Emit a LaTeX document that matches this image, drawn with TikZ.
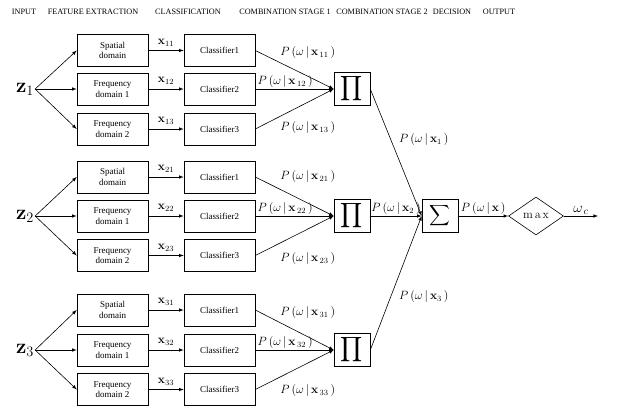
\documentclass[tikz,border=0pt]{standalone}
\usepackage{amsmath}
\usepackage[no-math]{fontspec}
\setmainfont{Liberation Serif}
\usetikzlibrary{shapes.geometric}

\tikzstyle{stage}=[font=\fontsize{8.2}{9}\selectfont, inner sep=0pt]
\tikzstyle{block}=[draw, line width=0.6pt, minimum width=71pt, minimum height=32pt, inner sep=1pt, align=center, font=\fontsize{9}{10.5}\selectfont]
\tikzstyle{comb}=[draw, line width=0.6pt, minimum width=36pt, minimum height=33pt, inner sep=0pt]
\tikzstyle{decide}=[draw, diamond, aspect=1.45, line width=0.6pt, minimum width=55pt, minimum height=38pt, inner sep=0pt]
\tikzstyle{arrow}=[line width=0.6pt, -latex]
\tikzstyle{input}=[font=\huge, inner sep=1pt]
\tikzstyle{feat}=[font=\large, inner sep=1pt]
\tikzstyle{prob}=[font=\large, inner sep=1pt]

\newcommand{\pw}[1]{$P\,(\omega\,|\,\mathbf{x}_{\,#1}\,)$}

\begin{document}
\begin{tikzpicture}[x=1pt, y=-1pt]
      \useasboundingbox[fill=white] (0,0) rectangle (618,413);

      % stage titles
      \node[stage] (hin) at (24, 12) {INPUT};
      \node[stage] (hfeat) at (93, 12) {FEATURE EXTRACTION};
      \node[stage] (hcls) at (188, 12) {CLASSIFICATION};
      \node[stage] (hcomb1) at (285, 12) {COMBINATION STAGE 1};
      \node[stage] (hcomb2) at (382, 12) {COMBINATION STAGE 2};
      \node[stage] (hdec) at (452, 12) {DECISION};
      \node[stage] (hout) at (499, 12) {OUTPUT};

      % group 1
      \node[input] (z1) at (25, 89) {$\mathbf{z}_1$};
      \node[block] (spat1) at (112.5, 50.5) {Spatial\\domain};
      \node[block] (freqa1) at (112.5, 89) {Frequency\\domain 1};
      \node[block] (freqb1) at (112.5, 129) {Frequency\\domain 2};
      \node[block] (cls11) at (219.5, 50.5) {Classifier1};
      \node[block] (cls12) at (219.5, 89) {Classifier2};
      \node[block] (cls13) at (219.5, 129) {Classifier3};
      \node[comb] (prod1) at (352, 89) {\fontsize{17}{20}\selectfont$\displaystyle\prod$};

      % group 2
      \node[input] (z2) at (25, 216) {$\mathbf{z}_2$};
      \node[block] (spat2) at (112.5, 177) {Spatial\\domain};
      \node[block] (freqa2) at (112.5, 216) {Frequency\\domain 1};
      \node[block] (freqb2) at (112.5, 255.5) {Frequency\\domain 2};
      \node[block] (cls21) at (219.5, 177) {Classifier1};
      \node[block] (cls22) at (219.5, 216) {Classifier2};
      \node[block] (cls23) at (219.5, 255.5) {Classifier3};
      \node[comb] (prod2) at (352, 216) {\fontsize{17}{20}\selectfont$\displaystyle\prod$};

      % group 3
      \node[input] (z3) at (25, 350) {$\mathbf{z}_3$};
      \node[block] (spat3) at (112.5, 310) {Spatial\\domain};
      \node[block] (freqa3) at (112.5, 350) {Frequency\\domain 1};
      \node[block] (freqb3) at (112.5, 389.5) {Frequency\\domain 2};
      \node[block] (cls31) at (219.5, 310) {Classifier1};
      \node[block] (cls32) at (219.5, 350) {Classifier2};
      \node[block] (cls33) at (219.5, 389.5) {Classifier3};
      \node[comb] (prod3) at (352, 350) {\fontsize{17}{20}\selectfont$\displaystyle\prod$};

      % second stage and decision
      \node[comb] (sum) at (440, 216) {\fontsize{15}{18}\selectfont$\displaystyle\sum$};
      \node[decide] (maxd) at (536, 216) {\large$\mathrm{m\,a\,x}$};
      \coordinate (out) at (598, 216);

      \draw[arrow] (z1.east) to (spat1.west);
      \draw[arrow] (z1.east) to (freqa1.west);
      \draw[arrow] (z1.east) to (freqb1.west);
      \draw[arrow] (spat1) to node[feat, above=3pt] {$\mathbf{x}_{11}$} (cls11);
      \draw[arrow] (freqa1) to node[feat, above=3pt] {$\mathbf{x}_{12}$} (cls12);
      \draw[arrow] (freqb1) to node[feat, above=3pt] {$\mathbf{x}_{13}$} (cls13);
      \draw[arrow] (cls11.east) to node[prob, pos=0.67, above=16pt] {\pw{11}} (prod1.west);
      \draw[arrow] (cls12.east) to node[prob, pos=0.38, above=0pt] {\pw{12}} (prod1.west);
      \draw[arrow] (cls13.east) to node[prob, pos=0.67, below=18pt] {\pw{13}} (prod1.west);

      \draw[arrow] (z2.east) to (spat2.west);
      \draw[arrow] (z2.east) to (freqa2.west);
      \draw[arrow] (z2.east) to (freqb2.west);
      \draw[arrow] (spat2) to node[feat, above=3pt] {$\mathbf{x}_{21}$} (cls21);
      \draw[arrow] (freqa2) to node[feat, above=3pt] {$\mathbf{x}_{22}$} (cls22);
      \draw[arrow] (freqb2) to node[feat, above=3pt] {$\mathbf{x}_{23}$} (cls23);
      \draw[arrow] (cls21.east) to node[prob, pos=0.67, above=19pt] {\pw{21}} (prod2.west);
      \draw[arrow] (cls22.east) to node[prob, pos=0.38, above=0pt] {\pw{22}} (prod2.west);
      \draw[arrow] (cls23.east) to node[prob, pos=0.67, below=22pt] {\pw{23}} (prod2.west);

      \draw[arrow] (z3.east) to (spat3.west);
      \draw[arrow] (z3.east) to (freqa3.west);
      \draw[arrow] (z3.east) to (freqb3.west);
      \draw[arrow] (spat3) to node[feat, above=3pt] {$\mathbf{x}_{31}$} (cls31);
      \draw[arrow] (freqa3) to node[feat, above=3pt] {$\mathbf{x}_{32}$} (cls32);
      \draw[arrow] (freqb3) to node[feat, above=3pt] {$\mathbf{x}_{33}$} (cls33);
      \draw[arrow] (cls31.east) to node[prob, pos=0.67, above=17pt] {\pw{31}} (prod3.west);
      \draw[arrow] (cls32.east) to node[prob, pos=0.38, above=0pt] {\pw{32}} (prod3.west);
      \draw[arrow] (cls33.east) to node[prob, pos=0.67, below=20pt] {\pw{33}} (prod3.west);

      \draw[arrow] (prod1.east) to node[prob, pos=0.4, right=7pt] {$P\,(\omega\,|\,\mathbf{x}_1\,)$} (sum.west);
      \draw[arrow] (prod2.east) to node[prob, above=0pt] {$P\,(\omega\,|\,\mathbf{x}_2\,)$} (sum.west);
      \draw[arrow] (prod3.east) to node[prob, pos=0.4, right=7pt] {$P\,(\omega\,|\,\mathbf{x}_3\,)$} (sum.west);
      \draw[arrow] (sum) to node[prob, above=0pt] {$P\,(\omega\,|\,\mathbf{x}\,)$} (maxd);
      \draw[arrow] (maxd) to node[prob, font=\Large, above=0pt] {$\omega_{\,c}$} (out);
    \end{tikzpicture}
\end{document}
